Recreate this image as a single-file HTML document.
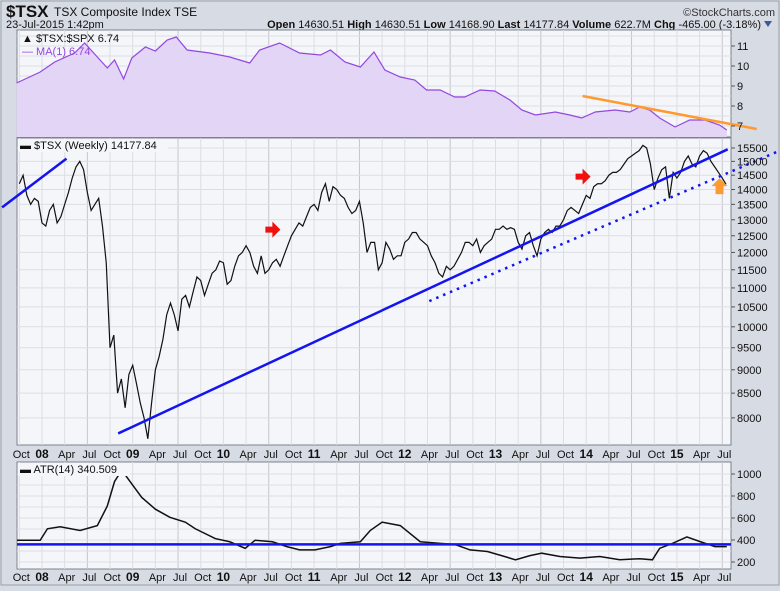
<!DOCTYPE html>
<html><head><meta charset="utf-8">
<style>
html,body{margin:0;padding:0;background:#d7dbe3;}
svg text{font-family:"Liberation Sans",sans-serif;}
</style></head>
<body>
<svg id="chart" width="780" height="586" viewBox="0 0 780 586" xmlns="http://www.w3.org/2000/svg">
<rect x="0" y="0" width="780" height="586" fill="#d7dbe3"/>
<rect x="1" y="1" width="778" height="584" fill="none" stroke="#9aa0aa"/>
<text x="6" y="17" font-size="17" font-weight="bold" fill="#111">$TSX</text>
<text x="54" y="16" font-size="12" fill="#111">TSX Composite Index  TSE</text>
<text x="775" y="16" font-size="11" fill="#333" text-anchor="end">©StockCharts.com</text>
<text x="6" y="28" font-size="11" fill="#111">23-Jul-2015 1:42pm</text>
<text x="761" y="28" font-size="11" fill="#111" text-anchor="end"><tspan font-weight="bold">Open</tspan> 14630.51 <tspan font-weight="bold">High</tspan> 14630.51 <tspan font-weight="bold">Low</tspan> 14168.90 <tspan font-weight="bold">Last</tspan> 14177.84 <tspan font-weight="bold">Volume</tspan> 622.7M <tspan font-weight="bold">Chg</tspan> -465.00 (-3.18%)</text>
<path d="M764 21 L772 21 L768 27 Z" fill="#3a5a9a"/>
<g id="g-top"></g>
<g id="g-main"></g>
<g id="g-atr"></g>
<g id="g-axes"></g>
</svg>
<script>
// ---- data ----
const mainStart = 2007.75;           // first semi-monthly sample (Oct 2007)
const mainStep = 1/24;
const tsxValues = [
14200,14500,13800,13500,13700,13600,
12900,12800,13300,13500,12900,13100,13500,13900,14400,14800,15000,14700,13900,13300,13500,13700,12800,11700,9500,9800,8500,8800,8200,8900,
9100,8700,8300,8000,7600,8300,9000,9300,9700,10300,10600,10300,9900,10700,10800,10500,10900,11300,11200,10800,11100,11400,11500,11750,
11700,11100,11200,11600,11900,12000,12200,12000,11600,11400,11900,11400,11500,11700,11800,11600,11900,12200,12500,12700,12900,12800,13100,13400,
13500,13300,13900,14200,13600,14100,14000,13800,13700,13400,13200,13300,13600,12900,12000,12300,12300,11500,11700,12300,12100,11800,11900,11900,
12300,12400,12600,12600,12400,12300,12200,11900,11700,11400,11300,11600,11500,11600,11800,12000,12300,12300,12200,12400,12000,12200,12300,12400,
12700,12700,12800,12700,12750,12700,12300,12100,12500,12600,12200,11900,12400,12600,12700,12600,12800,12800,13000,13300,13400,13300,13200,13500,
13800,13700,14100,14200,14200,14300,14500,14600,14600,14700,14900,15100,15200,15300,15400,15600,15500,14900,14000,14400,14700,14800,13700,14600,
14400,14600,15000,15200,14900,14800,15200,15400,15300,15000,14800,14600,14400,14180];
const ratioDates = [2007.72,2007.98,2008.14,2008.36,2008.47,2008.58,2008.72,2008.80,2008.90,2008.99,2009.14,2009.25,2009.38,2009.48,2009.60,2009.85,2010.07,2010.29,2010.40,2010.62,2010.84,2011.07,2011.18,2011.34,2011.51,2011.66,2011.78,2011.95,2012.11,2012.24,2012.39,2012.55,2012.66,2012.83,2012.99,2013.16,2013.29,2013.44,2013.66,2013.82,2013.95,2014.10,2014.32,2014.48,2014.59,2014.70,2014.81,2014.98,2015.14,2015.31,2015.47,2015.55];
const ratioValues = [9.15,9.7,10.2,10.65,11.15,10.6,9.9,10.3,9.35,10.4,10.95,10.75,11.3,11.45,10.8,10.65,10.45,10.15,10.8,11.15,10.65,10.55,10.8,10.2,9.95,10.7,9.8,9.45,9.3,8.8,8.8,8.45,8.45,8.8,8.75,8.3,7.8,7.55,7.7,7.55,7.4,7.7,7.8,7.7,7.95,7.8,7.4,6.95,7.3,7.3,7.05,6.8];
const atrDates = [2007.72,2007.98,2008.06,2008.20,2008.42,2008.61,2008.72,2008.80,2008.88,2008.97,2009.10,2009.25,2009.41,2009.58,2009.69,2009.91,2010.07,2010.24,2010.35,2010.54,2010.70,2010.84,2011.01,2011.18,2011.29,2011.51,2011.62,2011.75,2011.95,2012.17,2012.39,2012.55,2012.72,2012.91,2013.10,2013.22,2013.38,2013.51,2013.71,2013.93,2014.15,2014.37,2014.59,2014.73,2014.81,2014.95,2015.11,2015.26,2015.42,2015.55];
const atrValues = [398,398,502,520,487,531,709,932,1035,932,787,680,606,562,502,413,384,324,398,384,340,310,310,340,369,384,487,562,531,384,369,360,310,295,250,220,258,280,250,235,250,220,230,220,324,369,428,384,340,340];
const mainTicks = [8000,8500,9000,9500,10000,10500,11000,11500,12000,12500,13000,13500,14000,14500,15000,15500];
const ratioTicks = [7,8,9,10,11];
const atrTicks = [200,400,600,800,1000];
const monthLabels = ["","Apr","Jul","Oct"];
const yearLabels = ["08","09","10","11","12","13","14","15"];
const atrLevel = 360;
const solidTrend = [[2008.84,7700],[2015.56,15450]];
const oldTrend = [[2007.56,13400],[2008.27,15100]];
const dottedTrend = [[2012.27,10650],[2016.10,15350]];
const orangeTrend = [[2013.96,8.5],[2015.88,6.85]];

// ---- scales ----
const L = 17, R = 731;
const x = t => 42 + (t - 2008) * 90.7;
const TOP = {y0:30, y1:137};
const MAIN = {y0:138, y1:445};
const ATR = {y0:462, y1:569};
const yTop = v => 46 + (11 - v) * 20;
const yMain = v => 148 + (Math.log(15500) - Math.log(v)) * 408;
const yAtr = v => 474 + (1000 - v) * 0.11;
const NS = "http://www.w3.org/2000/svg";
function mk(parent, tag, attrs){ const e=document.createElementNS(NS,tag); for(const k in attrs) e.setAttribute(k,attrs[k]); parent.appendChild(e); return e; }

const gTop = document.getElementById('g-top');
const gMain = document.getElementById('g-main');
const gAtr = document.getElementById('g-atr');
const gAx = document.getElementById('g-axes');

function panel(g, P, name){
  const r = mk(g,'rect',{x:L,y:P.y0,width:R-L,height:P.y1-P.y0,fill:'#f4f6fa',stroke:'#7d828c'});
  
  
  for(let q=0;q<32;q++){
    const t = 2007.75 + q*0.25;
    const xx=x(t); if(xx<L||xx>R) continue;
    const yr = (q+1)%4===0;
    const ln = mk(g,'line',{x1:xx,x2:xx,y1:P.y0,y2:P.y1,stroke:yr?'#c4c6cc':'#dcdee4','stroke-width':1});
    
    
  }
}
function hgrid(g, yv, name){
  const ln = mk(g,'line',{x1:L,x2:R,y1:yv,y2:yv,stroke:'#dcdee4'});
  
  
}
function rlabel(g, yv, txt, name){
  const t = mk(g,'text',{x:R+6,y:yv+4,'font-size':11,fill:'#111'});
  t.textContent = txt;
  
  
  const tk = mk(g,'line',{x1:R,x2:R+4,y1:yv,y2:yv,stroke:'#555'});
  
  
}

// ---- top ratio panel ----
panel(gTop, TOP, 'ratio-panel');
for(let v=6.5; v<=11.5; v+=0.5){ const yy=yTop(v); if(yy>TOP.y0&&yy<TOP.y1) hgrid(gTop,yy,'ratio-gridline'); }
let ptsR = ratioDates.map((d,i)=>x(d)+','+yTop(ratioValues[i]));
const area = mk(gTop,'polygon',{points:ptsR.join(' ')+' '+x(ratioDates[ratioDates.length-1])+','+TOP.y1+' '+x(ratioDates[0])+','+TOP.y1,fill:'#e3d5f5'});


const rl = mk(gTop,'polyline',{points:ptsR.join(' '),fill:'none',stroke:'#9447e0','stroke-width':1.2});


ratioTicks.forEach(v=>rlabel(gAx,yTop(v),String(v),'ratio-tick-label'));
const ot = mk(gTop,'line',{x1:x(orangeTrend[0][0]),y1:yTop(orangeTrend[0][1]),x2:x(orangeTrend[1][0]),y2:yTop(orangeTrend[1][1]),stroke:'#ff9a30','stroke-width':2.5});


const lg1 = mk(gTop,'text',{x:22,y:42,'font-size':11,fill:'#111'}); lg1.textContent='▲ $TSX:$SPX 6.74';


const lg2 = mk(gTop,'text',{x:22,y:55,'font-size':11,fill:'#9447e0'}); lg2.textContent='— MA(1) 6.74';



// ---- main panel ----
panel(gMain, MAIN, 'price-panel');
mainTicks.forEach(v=>{ hgrid(gMain,yMain(v),'price-gridline'); rlabel(gAx,yMain(v),String(v),'price-tick-label'); });
const ptsM = tsxValues.map((v,i)=>x(mainStart+i*mainStep)+','+yMain(v));
const ml = mk(gMain,'polyline',{points:ptsM.join(' '),fill:'none',stroke:'#111','stroke-width':1.2});


function trend(tr, attrs, name){
  const a = Object.assign({x1:x(tr[0][0]),y1:yMain(tr[0][1]),x2:x(tr[1][0]),y2:yMain(tr[1][1])}, attrs);
  const l = mk(gMain,'line',a);
  
  
}
trend(solidTrend,{stroke:'#1414f0','stroke-width':2.5},'support-trendline');
trend(oldTrend,{stroke:'#1414f0','stroke-width':2.5},'old-trendline');
trend(dottedTrend,{stroke:'#1414f0','stroke-width':2.5,'stroke-dasharray':'2.5 5'},'dotted-trendline');
function redArrow(d,v,name){
  const X=x(d), Y=yMain(v);
  const p = mk(gMain,'path',{d:`M${X-7} ${Y-3} h7 v-5 l8 8 l-8 8 v-5 h-7 z`,fill:'#f01010'});
  
  
}
redArrow(2010.54,12690,'red-arrow-2010');
redArrow(2013.96,14450,'red-arrow-2014');
(function(){
  const X=x(2015.47), Y=yMain(14150);
  const p = mk(gMain,'path',{d:`M${X} ${Y-7} l8 8 h-4 v8 h-8 v-8 h-4 z`,fill:'#ff9a30'});
  
  
})();
const lg3bg = mk(gMain,'rect',{x:18,y:139,width:150,height:13,fill:'#f4f6fa'});


const lg3 = mk(gMain,'text',{x:20,y:149,'font-size':11,fill:'#111'}); lg3.textContent='▬ $TSX (Weekly) 14177.84';



// ---- ATR panel ----
panel(gAtr, ATR, 'atr-panel');
for(let v=200; v<=1000; v+=100) hgrid(gAtr,yAtr(v),'atr-gridline');
atrTicks.forEach(v=>rlabel(gAx,yAtr(v),String(v),'atr-tick-label'));
const clip = mk(gAtr,'clipPath',{id:'atrclip'});
mk(clip,'rect',{x:L,y:ATR.y0,width:R-L,height:ATR.y1-ATR.y0});
const al = mk(gAtr,'polyline',{points:atrDates.map((d,i)=>x(d)+','+yAtr(atrValues[i])).join(' '),fill:'none',stroke:'#111','stroke-width':1.5,'clip-path':'url(#atrclip)'});


const hl = mk(gAtr,'line',{x1:L,x2:R,y1:yAtr(atrLevel),y2:yAtr(atrLevel),stroke:'#1414f0','stroke-width':2.5});


const lg4bg = mk(gAtr,'rect',{x:18,y:463,width:112,height:13,fill:'#f4f6fa'});


const lg4 = mk(gAtr,'text',{x:20,y:473,'font-size':11,fill:'#111'}); lg4.textContent='▬ ATR(14) 340.509';



// ---- x axis labels ----
[458,581].forEach(yy=>{
  for(let q=0;q<32;q++){
    const t = 2007.75 + q*0.25;
    const m = (q+3)%4; // 0 Jan,1 Apr,2 Jul,3 Oct
    const isYear = m===0;
    const txt = isYear ? yearLabels[Math.round(t)-2008] : monthLabels[m];
    if(txt===undefined) continue;
    const tx = mk(gAx,'text',{x:x(t)+(isYear?0:2),y:yy,'font-size':isYear?12:11,'font-weight':isYear?'bold':'normal','text-anchor':'middle',fill:'#111'});
    tx.textContent = txt;
    
    
  }
});
</script>
</body></html>
